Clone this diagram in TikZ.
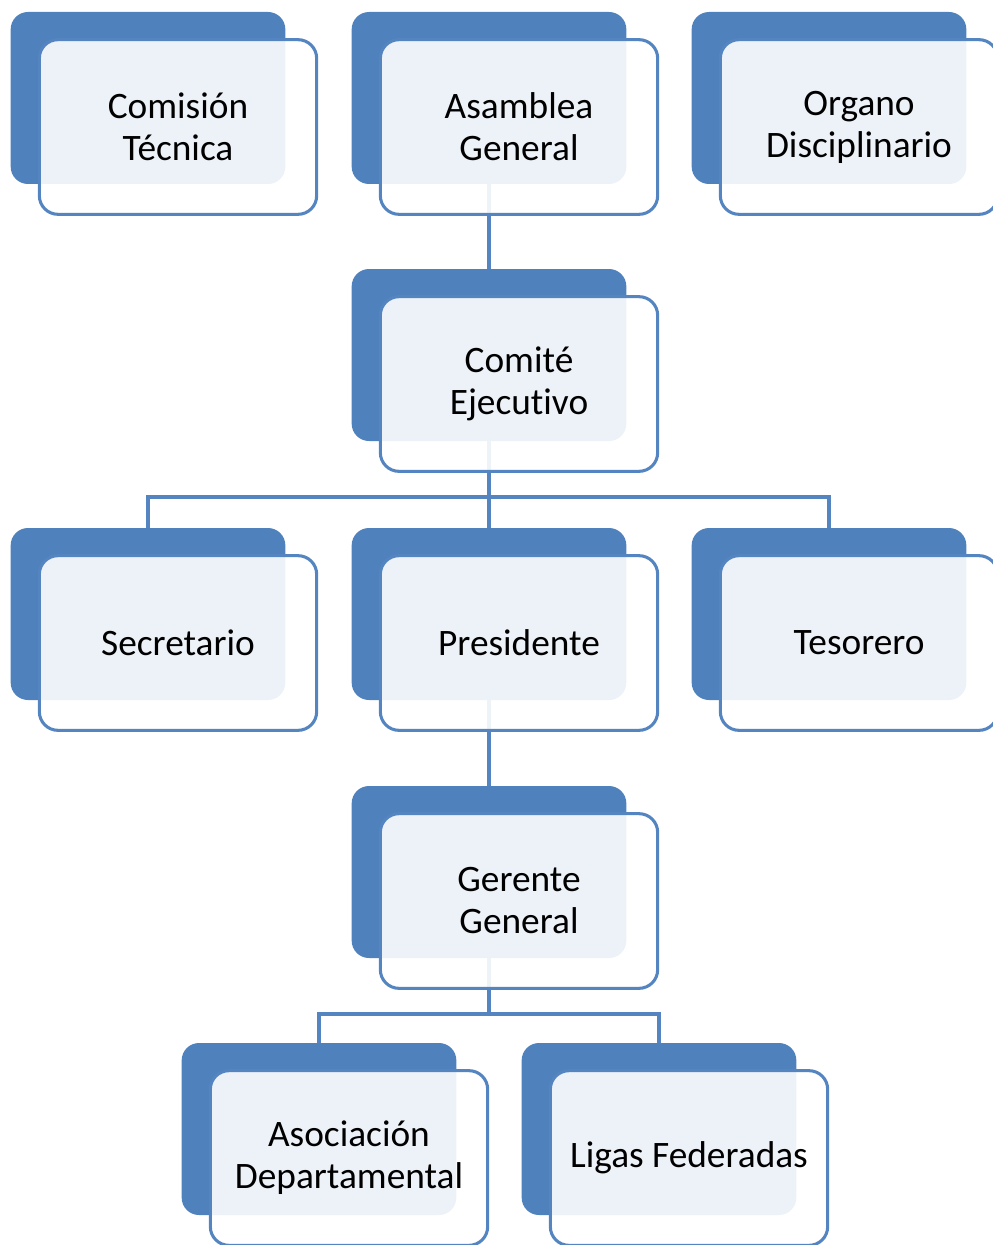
\documentclass[tikz,border=0pt]{standalone}
\usepackage{fontspec}
\setmainfont{Carlito}[Ligatures=NoCommon]
\usetikzlibrary{calc}

\definecolor{orgblue}{HTML}{4F81BD}
\definecolor{lineblue}{HTML}{5585C0}

\tikzset{
  backbox/.style={rectangle, rounded corners=13pt, fill=orgblue, draw=none,
    minimum width=206pt, minimum height=129pt, inner sep=0pt},
  frontbox/.style={rectangle, rounded corners=14pt, fill=white, fill opacity=0.9,
    text opacity=1, draw=lineblue, line width=2.3pt,
    minimum width=208pt, minimum height=131pt, inner sep=0pt, align=center,
    font=\fontsize{28}{31.5}\selectfont},
  link/.style={draw=lineblue, line width=2.6pt}
}

\begin{document}
\begin{tikzpicture}[x=0.75pt, y=-0.75pt]
\useasboundingbox (0,0) rectangle (992,1245);

% back panels
\node[backbox] (comision) at (148,98) {};
\node[backbox] (asamblea) at (489,98) {};
\node[backbox] (organo) at (829,98) {};
\node[backbox] (comite) at (489,355) {};
\node[backbox] (secretario) at (148,614) {};
\node[backbox] (presidente) at (489,614) {};
\node[backbox] (tesorero) at (829,614) {};
\node[backbox] (gerente) at (489,872) {};
\node[backbox] (asociacion) at (319,1129) {};
\node[backbox] (ligas) at (659,1129) {};

% connectors
\coordinate (j1) at (489,497);
\coordinate (j2) at (489,1014);
\draw[link] (asamblea.south)--(comite.north);
\draw[link] (comite.south)--(j1);
\draw[link] (j1)-|(secretario.north);
\draw[link] (j1)--(presidente.north);
\draw[link] (j1)-|(tesorero.north);
\draw[link] (presidente.south)--(gerente.north);
\draw[link] (gerente.south)--(j2);
\draw[link] (j2)-|(asociacion.north);
\draw[link] (j2)-|(ligas.north);

% front panels
\node[frontbox] (comisionF) at ($(comision)+(30,29)$) {Comisión\\Técnica};
\node[frontbox] (asambleaF) at ($(asamblea)+(30,29)$) {Asamblea\\General};
\node[frontbox] (organoF) at ($(organo)+(30,29)$) {Organo\\Disciplinario};
\node[frontbox] (comiteF) at ($(comite)+(30,29)$) {Comité\\Ejecutivo};
\node[frontbox] (secretarioF) at ($(secretario)+(30,29)$) {Secretario};
\node[frontbox] (presidenteF) at ($(presidente)+(30,29)$) {Presidente};
\node[frontbox] (tesoreroF) at ($(tesorero)+(30,29)$) {Tesorero};
\node[frontbox] (gerenteF) at ($(gerente)+(30,29)$) {Gerente\\General};
\node[frontbox] (asociacionF) at ($(asociacion)+(30,29)$) {Asociación\\Departamental};
\node[frontbox] (ligasF) at ($(ligas)+(30,29)$) {Ligas Federadas};

\end{tikzpicture}
\end{document}
